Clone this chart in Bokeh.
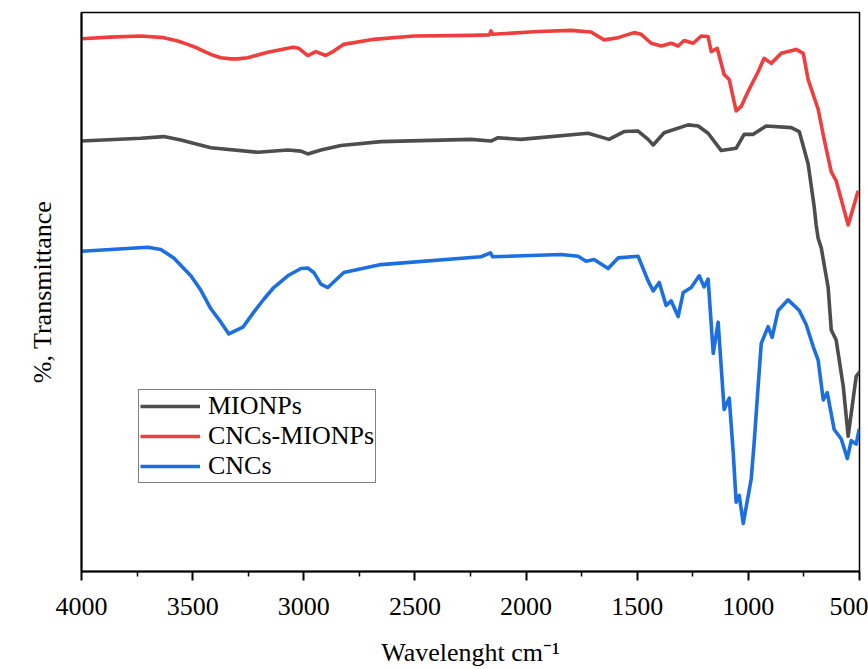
from bokeh.plotting import figure
from bokeh.models import Range1d, FixedTicker, Legend, LegendItem
from bokeh.embed import file_html
from bokeh.resources import INLINE

# Wavenumbers (cm-1) and transmittance (arbitrary %, stacked)
mionps_wn = [4000, 3733, 3630, 3553, 3418, 3207, 3072, 3013, 2982, 2923, 2833, 2653,
             2248, 2158, 2126, 2023, 1721, 1627, 1559, 1496, 1451, 1428, 1379, 1271,
             1226, 1181, 1122, 1055, 1019, 978, 920, 807, 771, 731, 704, 695, 686, 672,
             659, 641, 627, 605, 573, 551, 515, 497]
mionps_t = [77.0, 77.5, 77.8, 77.2, 75.8, 75.0, 75.4, 75.2, 74.7, 75.4, 76.2, 76.9,
            77.3, 77.0, 77.6, 77.3, 78.4, 77.3, 78.7, 78.8, 77.3, 76.3, 78.5, 79.9,
            79.7, 78.4, 75.3, 75.7, 78.2, 78.2, 79.7, 79.4, 78.7, 72.9, 65.3, 62.0, 59.6, 57.9,
            54.9, 50.8, 43.2, 41.4, 33.1, 24.2, 34.9, 35.8]

cncs_mionps_wn = [4000, 3870, 3733, 3630, 3567, 3522, 3477, 3441, 3405, 3373, 3328, 3297,
                  3252, 3207, 3162, 3049, 3022,
                  2982, 2946, 2901, 2865, 2820, 2685, 2504, 2248, 2165, 2158, 2150, 1946,
                  1798, 1708, 1649, 1586, 1514, 1482, 1437, 1392, 1347, 1316, 1289, 1248,
                  1212, 1181, 1167, 1140, 1109, 1086, 1055, 1032, 1001, 956, 929, 897, 852,
                  785, 753, 731, 686, 659, 627, 605, 551, 506]
cncs_mionps_t = [95.3, 95.6, 95.8, 95.5, 94.9, 94.3, 93.6, 92.9, 92.3, 91.9, 91.7, 91.7,
                 91.9, 92.4, 92.9, 93.8, 93.6,
                 92.3, 93.0, 92.3, 93.1, 94.3, 95.2, 95.8, 95.9, 96.0, 96.7, 96.1, 96.6,
                 96.8, 96.5, 95.1, 95.5, 96.4, 96.1, 94.5, 94.0, 94.5, 94.0, 95.0, 94.5,
                 95.8, 95.7, 93.0, 93.6, 88.9, 88.0, 82.4, 83.2, 85.9, 89.4, 91.8, 90.9, 92.7,
                 93.4, 92.7, 88.0, 82.7, 77.3, 71.5, 69.9, 62.0, 68.1]

cncs_wn = [4000, 3702, 3643, 3585, 3508, 3463, 3418, 3373, 3337, 3274, 3225, 3180, 3135,
           3072, 3013, 2982, 2955, 2923,
           2892, 2820, 2653, 2203, 2160, 2150, 1843, 1766, 1730, 1694, 1631, 1586, 1496,
           1451, 1428, 1401, 1370, 1347, 1316, 1293, 1257, 1221, 1199, 1181, 1158, 1136,
           1109, 1086, 1068, 1055, 1041, 1023, 987, 974, 956, 942, 911, 893, 866, 821, 771,
           740, 708, 686, 663, 645, 614, 582, 555, 537, 515, 501]
cncs_t = [57.3, 58.0, 57.6, 56.1, 52.9, 50.3, 47.0, 44.6, 42.5, 43.7, 46.4, 48.7, 50.8,
          52.9, 54.2, 54.3, 53.5, 51.4,
          50.8, 53.5, 54.9, 56.3, 57.0, 56.3, 56.7, 56.4, 55.5, 55.8, 54.2, 56.1, 56.4,
          52.0, 50.2, 51.7, 47.6, 48.4, 45.6, 49.9, 50.8, 52.9, 50.9, 52.3, 39.0, 44.6,
          29.0, 31.0, 21.2, 12.4, 13.6, 8.6, 16.6, 23.0, 33.1, 40.8, 43.8, 41.9, 46.7, 48.6, 46.7,
          44.2, 40.2, 37.8, 30.7, 32.0, 25.4, 23.7, 20.2, 23.4, 22.8, 25.5]

x_ticks = [4000, 3500, 3000, 2500, 2000, 1500, 1000, 500]
x_minor = [3750, 3250, 2750, 2250, 1750, 1250, 750]
series_names = ["MIONPs", "CNCs-MIONPs", "CNCs"]
colors = ["#4d4d4d", "#f03e3e", "#1c6fe0"]

FONT = "Liberation Serif"

p = figure(width=868, height=669, output_backend="svg", toolbar_location=None,
           x_range=Range1d(4000, 500), y_range=Range1d(0, 100),
           min_border_left=81, min_border_right=9, min_border_top=12, min_border_bottom=92)
p.xgrid.visible = False
p.ygrid.visible = False
p.outline_line_color = "black"
p.outline_line_width = 1.5
p.outline_line_alpha = 1

xa = p.xaxis[0]
xa.ticker = FixedTicker(ticks=x_ticks, minor_ticks=x_minor)
xa.major_tick_in = 0
xa.major_tick_out = 9
xa.minor_tick_in = 0
xa.minor_tick_out = 5
xa.axis_line_width = 2
xa.major_tick_line_width = 2
xa.minor_tick_line_width = 1.5
xa.major_label_text_font = FONT
xa.major_label_text_font_size = "26px"
xa.major_label_text_color = "black"
xa.major_label_standoff = 17
xa.axis_label = "Wavelenght cm\u207b\u00b9"
xa.axis_label_text_font = FONT
xa.axis_label_text_font_size = "26px"
xa.axis_label_text_font_style = "normal"
xa.axis_label_text_color = "black"
xa.axis_label_standoff = 20

ya = p.yaxis[0]
ya.ticker = FixedTicker(ticks=[])
ya.axis_line_width = 2
ya.major_tick_out = 0
ya.minor_tick_out = 0
ya.axis_label = "%, Transmittance"
ya.axis_label_text_font = FONT
ya.axis_label_text_font_size = "26px"
ya.axis_label_text_font_style = "normal"
ya.axis_label_text_color = "black"
ya.axis_label_standoff = 25

lw = 3.6
r1 = p.line(mionps_wn, mionps_t, line_color=colors[0], line_width=lw, line_join="round")
r2 = p.line(cncs_mionps_wn, cncs_mionps_t, line_color=colors[1], line_width=lw, line_join="round")
r3 = p.line(cncs_wn, cncs_t, line_color=colors[2], line_width=lw, line_join="round")

legend = Legend(items=[LegendItem(label=series_names[0], renderers=[r1]),
                       LegendItem(label=series_names[1], renderers=[r2]),
                       LegendItem(label=series_names[2], renderers=[r3])],
                location=(57, 88))
legend.border_line_color = "black"
legend.border_line_width = 1
legend.label_text_font = FONT
legend.label_text_font_size = "26px"
legend.label_text_color = "black"
legend.glyph_width = 60
legend.glyph_height = 20
legend.label_height = 20
legend.spacing = 0
legend.padding = 1
legend.margin = 0
legend.label_standoff = 8
legend.background_fill_alpha = 1
p.add_layout(legend)

open("out.html", "w").write(file_html(p, INLINE))
